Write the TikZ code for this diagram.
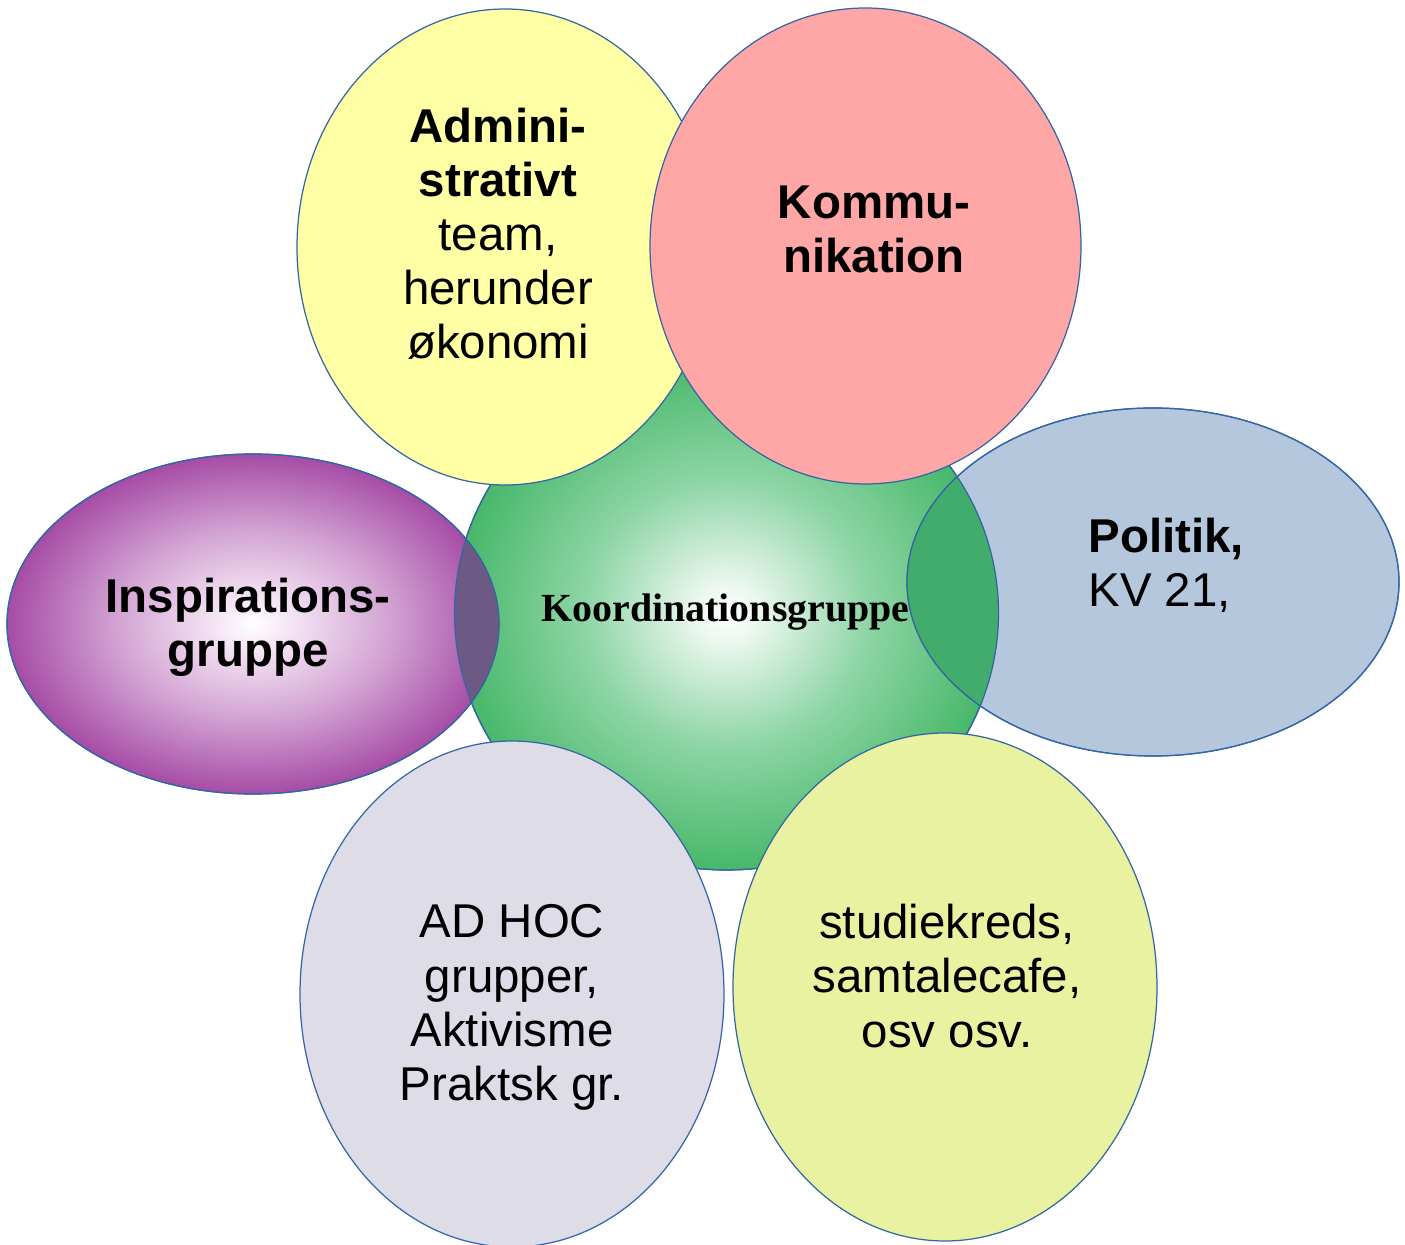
\documentclass[tikz,border=0pt]{standalone}
\usepackage{fontspec}
\setmainfont{Liberation Sans}
\newfontfamily\koordfont{Liberation Serif}
\usetikzlibrary{shapes.geometric}

\definecolor{rammeblaa}{HTML}{3465A4}
\definecolor{adminfarve}{HTML}{FFFFA6}
\definecolor{kommfarve}{HTML}{FFA6A6}
\definecolor{politikfarve}{HTML}{B4C7DC}
\definecolor{adhocfarve}{HTML}{DEDCE6}
\definecolor{studiefarve}{HTML}{E8F2A1}
\definecolor{koordgroen}{HTML}{47B86A}
\definecolor{koordlys}{HTML}{EAF7EE}
\definecolor{koordmid}{HTML}{8ED5A5}
\definecolor{inspirlilla}{HTML}{A64CA6}
\definecolor{inspirlys}{HTML}{F4E4F4}
\definecolor{inspirmid}{HTML}{D2A2D2}
\definecolor{lillagroen}{HTML}{6C5A84}
\definecolor{blaagroen}{HTML}{42AC6C}

\pgfdeclareradialshading{koordshade}{\pgfpoint{0bp}{0bp}}{color(0bp)=(white); color(3bp)=(koordlys); color(13bp)=(koordmid); color(25bp)=(koordgroen); color(50bp)=(koordgroen)}
\pgfdeclareradialshading{inspirshade}{\pgfpoint{0bp}{0bp}}{color(0bp)=(white); color(4bp)=(inspirlys); color(14bp)=(inspirmid); color(25bp)=(inspirlilla); color(50bp)=(inspirlilla)}

\begin{document}
\begin{tikzpicture}[
  gruppe/.style={ellipse, draw=rammeblaa, line width=0.35pt, inner sep=0pt},
  kant/.style={draw=rammeblaa, line width=0.35pt},
  tekst/.style={align=center, font=\fontsize{13.5}{15.4}\selectfont},
  tekstfed/.style={align=center, font=\fontsize{13.5}{15.4}\selectfont\bfseries},
]
\useasboundingbox (0,0) rectangle (14.05,-12.45);

% midten
\node[gruppe, shade, shading=koordshade, minimum width=5.44cm, minimum height=5.14cm] (koord) at (7.265,-6.13) {};

% venstre og hoejre
\node[gruppe, shade, shading=inspirshade, minimum width=4.92cm, minimum height=3.40cm] (inspir) at (2.53,-6.24) {};
\node[gruppe, fill=politikfarve, minimum width=4.92cm, minimum height=3.48cm] (politik) at (11.53,-5.82) {};

% overlap med midten
\begin{scope}
  \clip (inspir.center) ellipse [x radius=2.46, y radius=1.70];
  \fill[lillagroen] (koord.center) ellipse [x radius=2.72, y radius=2.57];
\end{scope}
\begin{scope}
  \clip (politik.center) ellipse [x radius=2.46, y radius=1.74];
  \fill[blaagroen] (koord.center) ellipse [x radius=2.72, y radius=2.57];
\end{scope}
\draw[kant] (koord.center) ellipse [x radius=2.72, y radius=2.57];
\draw[kant] (inspir.center) ellipse [x radius=2.46, y radius=1.70];
\draw[kant] (politik.center) ellipse [x radius=2.46, y radius=1.74];

% top og bund
\node[gruppe, fill=adminfarve, minimum width=4.16cm, minimum height=4.76cm] (admin) at (5.05,-2.47) {};
\node[gruppe, fill=kommfarve, minimum width=4.31cm, minimum height=4.76cm] (komm) at (8.655,-2.46) {};
\node[gruppe, fill=adhocfarve, minimum width=4.24cm, minimum height=5.06cm] (adhoc) at (5.12,-9.94) {};
\node[gruppe, fill=studiefarve, minimum width=4.24cm, minimum height=5.08cm] (studie) at (9.45,-9.87) {};

% tekster
\node[tekst] (admintekst) at (4.98,-2.34) {\textbf{Admini-}\\\textbf{strativt}\\team,\\herunder\\økonomi};
\node[tekstfed] (kommtekst) at (8.74,-2.29) {Kommu-\\nikation};
\node[tekst, align=left, anchor=west] (politiktekst) at (10.76,-5.65) {\textbf{Politik,}\\KV 21,};
\node[tekstfed] (inspirtekst) at (2.48,-6.275) {Inspirations-\\gruppe};
\node[font=\koordfont\fontsize{11.35}{13}\selectfont\bfseries] (koordtekst) at (7.255,-6.12) {Koordinationsgruppe};
\node[tekst] (adhoctekst) at (5.12,-10.075) {AD HOC\\grupper,\\Aktivisme\\Praktsk gr.};
\node[tekst] (studietekst) at (9.47,-9.76) {studiekreds,\\samtalecafe,\\osv osv.};
\end{tikzpicture}
\end{document}
